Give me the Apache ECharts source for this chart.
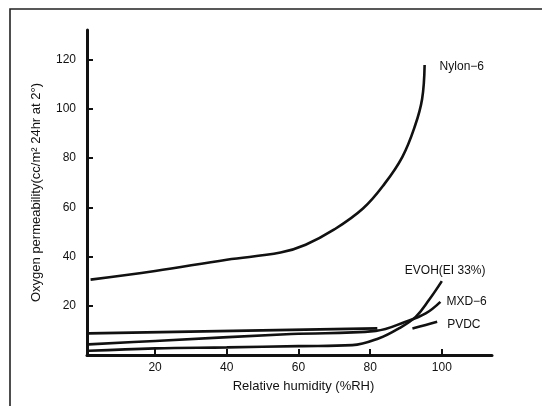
<!DOCTYPE html>
<html>
<head>
<meta charset="utf-8">
<script src="https://cdn.jsdelivr.net/npm/echarts@6/dist/echarts.min.js"></script>
<style>
  html, body { margin: 0; padding: 0; background: #fff; }
  #chart { width: 542px; height: 406px; }
</style>
</head>
<body>
<div id="chart"></div>
<script>
// tick labels
const xTicks = [20, 40, 60, 80, 100];
const yTicks = [20, 40, 60, 80, 100, 120];

// Nylon-6
const nylonRH = [2, 20, 40, 55, 62, 70, 78, 84, 89, 92.5, 94.5, 95.2];
const nylonO2 = [30.6, 34.1, 38.7, 41.6, 44.8, 51, 59.5, 69.5, 80.5, 93, 104, 117.8];

// EVOH(EI 33%)
const evohRH = [1.5, 20, 40, 60, 75, 82.5, 88, 92.7, 96.4, 100];
const evohO2 = [1.7, 2.7, 3.1, 3.6, 4.0, 6.8, 10.8, 15.5, 22.3, 30];

// MXD-6
const mxdRH = [1.5, 20, 58, 81.6, 89.9, 95.5, 99.6];
const mxdO2 = [4.3, 5.7, 8.5, 9.8, 13.5, 16.9, 21.6];

// PVDC (two pieces, broken where the other curves cross)
const pvdcRH1 = [1.5, 82];
const pvdcO21 = [8.8, 10.8];
const pvdcRH2 = [91.8, 95.5, 98.7];
const pvdcO22 = [10.8, 12.2, 13.5];

function pairs(xs, ys) {
  return xs.map((x, i) => [x, ys[i]]);
}

const font = "'Liberation Sans', Arial, sans-serif";
const ink = '#111';

function curve(name, data, label, dist, off) {
  return {
    name: name,
    type: 'line',
    data: data,
    smooth: 0.4,
    showSymbol: false,
    symbol: 'none',
    lineStyle: {color: ink, width: 2.6},
    endLabel: {
      show: true,
      formatter: label,
      distance: dist,
      offset: off,
      color: ink,
      fontSize: 12,
      fontFamily: font
    }
  };
}

var myChart = echarts.init(document.getElementById('chart'));
myChart.setOption({
  animation: false,
  grid: {left: 87, right: 50, top: 30, bottom: 51},
  graphic: [{
    type: 'polyline',
    shape: {points: [[10, 406], [10, 9], [542, 9]]},
    style: {stroke: '#222', lineWidth: 1.6, fill: null}
  }],
  xAxis: {
    type: 'value',
    min: 1,
    max: 114,
    name: 'Relative humidity (%RH)',
    nameLocation: 'middle',
    nameGap: 25,
    nameTextStyle: {color: ink, fontSize: 13, fontFamily: font, padding: [0, 0, 0, 28]},
    splitLine: {show: false},
    axisLine: {lineStyle: {color: ink, width: 3}},
    axisTick: {inside: true, length: 6, customValues: xTicks, lineStyle: {color: ink, width: 2}},
    axisLabel: {customValues: xTicks, margin: 7, color: ink, fontSize: 12, fontFamily: font}
  },
  yAxis: {
    type: 'value',
    min: 0,
    max: 132,
    name: 'Oxygen permeability(cc/m² 24hr at 2°)',
    nameLocation: 'middle',
    nameGap: 44,
    nameTextStyle: {color: ink, fontSize: 13, fontFamily: font},
    splitLine: {show: false},
    axisLine: {show: true, lineStyle: {color: ink, width: 3}},
    axisTick: {show: true, inside: true, length: 6, customValues: yTicks, lineStyle: {color: ink, width: 2}},
    axisLabel: {customValues: yTicks, margin: 11, color: ink, fontSize: 12, fontFamily: font}
  },
  series: [
    curve('Nylon-6', pairs(nylonRH, nylonO2), 'Nylon−6', 15, [0, 2]),
    curve('EVOH', pairs(evohRH, evohO2), 'EVOH(EI 33%)', 5, [-42, -10]),
    curve('MXD-6', pairs(mxdRH, mxdO2), 'MXD−6', 6, [0, 0]),
    curve('PVDC', pairs(pvdcRH1, pvdcO21).concat([['-', '-']], pairs(pvdcRH2, pvdcO22)), 'PVDC', 10, [0, 3])
  ]
});
</script>
</body>
</html>
